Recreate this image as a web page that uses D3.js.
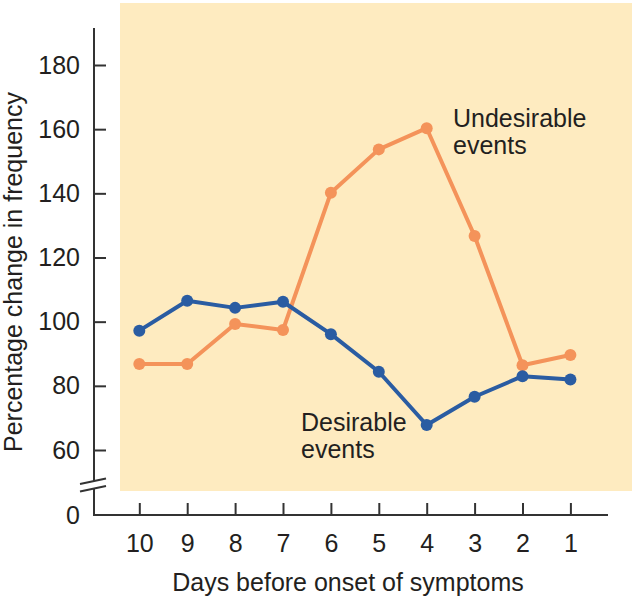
<!DOCTYPE html>
<html>
<head>
<meta charset="utf-8">
<script src="https://cdn.jsdelivr.net/npm/d3@7"></script>
<style>
  html, body { margin: 0; padding: 0; background: #fff; }
  svg text { font-family: "Liberation Sans", Arial, Helvetica, sans-serif; fill: #231f20; }
</style>
</head>
<body>
<svg id="chart" width="632" height="600"></svg>
<script>
// ---- data ----
const days = [10, 9, 8, 7, 6, 5, 4, 3, 2, 1];
const desirable = [97.2, 106.5, 104.3, 106.2, 96.1, 84.4, 67.8, 76.6, 83.0, 82.0];
const undesirable = [86.8, 86.8, 99.3, 97.4, 140.2, 153.7, 160.3, 126.7, 86.4, 89.6];
const yTicks = [60, 80, 100, 120, 140, 160, 180];
const seriesLabels = [["Undesirable", "events"], ["Desirable", "events"]];
const xTitle = "Days before onset of symptoms";
const yTitle = "Percentage change in frequency";

// ---- layout ----
const svg = d3.select("#chart");
const axisX = 94, baseY = 515, fs = 25;
const colors = { bg: "#feebc0", orange: "#f4935a", blue: "#2a5ca2", axis: "#333333" };

const x = d3.scalePoint().domain(days).range([139.3, 570.4]);
const y = d3.scaleLinear().domain([60, 180]).range([450, 65]);

// background panel
svg.append("rect")
  .attr("x", 120).attr("y", 3)
  .attr("width", 632 - 120).attr("height", 491 - 3)
  .attr("fill", colors.bg);

// y axis
const yAxis = d3.axisLeft(y).tickValues(yTicks).tickSize(-12).tickPadding(14);
const gy = svg.append("g").attr("transform", `translate(${axisX},0)`).call(yAxis);
gy.select(".domain").remove();
gy.selectAll(".tick line").attr("stroke", colors.axis).attr("stroke-width", 2);
gy.selectAll(".tick text").attr("font-size", fs).attr("fill", "#231f20")
  .style("font-family", '"Liberation Sans", Arial, sans-serif');

// y axis line with break
svg.append("line").attr("x1", axisX).attr("x2", axisX)
  .attr("y1", 28).attr("y2", 481)
  .attr("stroke", colors.axis).attr("stroke-width", 2);
svg.append("line").attr("x1", axisX).attr("x2", axisX)
  .attr("y1", 488).attr("y2", baseY + 1)
  .attr("stroke", colors.axis).attr("stroke-width", 2);
// break marks
[[80, 484, 106, 478.5], [80, 491.5, 106, 486]].forEach(s => {
  svg.append("line").attr("x1", s[0]).attr("y1", s[1]).attr("x2", s[2]).attr("y2", s[3])
    .attr("stroke", colors.axis).attr("stroke-width", 2);
});
// zero label
svg.append("text").attr("x", 80).attr("y", baseY).attr("dy", "0.35em")
  .attr("text-anchor", "end").attr("font-size", fs).text("0");

// x axis
const xAxis = d3.axisBottom(x).tickSize(-12).tickPadding(19);
const gx = svg.append("g").attr("transform", `translate(0,${baseY})`).call(xAxis);
gx.select(".domain").remove();
gx.selectAll(".tick line").attr("stroke", colors.axis).attr("stroke-width", 2);
gx.selectAll(".tick text").attr("font-size", fs).attr("fill", "#231f20")
  .style("font-family", '"Liberation Sans", Arial, sans-serif');
svg.append("line").attr("x1", axisX - 1).attr("x2", 608)
  .attr("y1", baseY).attr("y2", baseY)
  .attr("stroke", colors.axis).attr("stroke-width", 2);

// series
const line = d3.line().x((d, i) => x(days[i])).y(d => y(d));
[[undesirable, colors.orange], [desirable, colors.blue]].forEach(([vals, c]) => {
  svg.append("path").datum(vals).attr("d", line)
    .attr("fill", "none").attr("stroke", c).attr("stroke-width", 4)
    .attr("stroke-linejoin", "round");
  svg.append("g").selectAll("circle").data(vals).join("circle")
    .attr("cx", (d, i) => x(days[i])).attr("cy", d => y(d))
    .attr("r", 6).attr("fill", c);
});

// series labels
const labelPos = [[453, 127], [301, 431]];
seriesLabels.forEach((lines, k) => {
  const t = svg.append("text").attr("font-size", fs)
    .attr("x", labelPos[k][0]).attr("y", labelPos[k][1]);
  lines.forEach((s, j) => {
    t.append("tspan").attr("x", labelPos[k][0]).attr("dy", j === 0 ? 0 : 27).text(s);
  });
});

// axis titles
svg.append("text").attr("x", 348).attr("y", 591)
  .attr("text-anchor", "middle").attr("font-size", fs).text(xTitle);
svg.append("text")
  .attr("transform", "translate(22,272) rotate(-90)")
  .attr("text-anchor", "middle").attr("font-size", fs).text(yTitle);
</script>
</body>
</html>
